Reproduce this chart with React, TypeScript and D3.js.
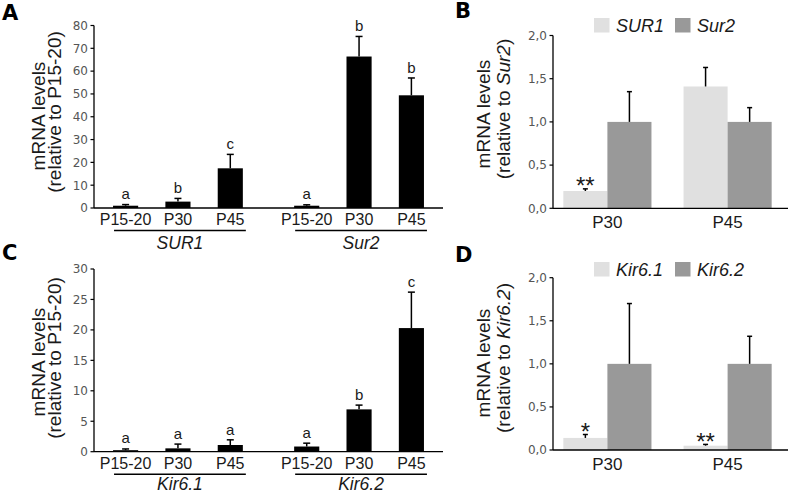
import React from "react";
import * as d3 from "d3";

// ---------- Data ----------
const stages = ["P15-20", "P30", "P45"];

const genesA = ["SUR1", "Sur2"];
const meanA = [
  [1.0, 2.8, 17.4],
  [1.0, 66.4, 49.4],
];
const semA = [
  [0.5, 1.4, 6.1],
  [0.4, 8.8, 7.6],
];
const lettersA = [
  ["a", "b", "c"],
  ["a", "b", "b"],
];
const ticksA = [0, 10, 20, 30, 40, 50, 60, 70, 80];

const genesC = ["Kir6.1", "Kir6.2"];
const meanC = [
  [0.25, 0.55, 1.1],
  [0.85, 6.95, 20.3],
];
const semC = [
  [0.2, 0.7, 0.85],
  [0.55, 0.7, 5.9],
];
const lettersC = [
  ["a", "a", "a"],
  ["a", "b", "c"],
];
const ticksC = [0, 5, 10, 15, 20, 25, 30];

const ages = ["P30", "P45"];
const seriesB = ["SUR1", "Sur2"];
const meanB = [
  [0.2, 1.41],
  [1.0, 1.0],
];
const semB = [
  [0.025, 0.22],
  [0.35, 0.165],
];
const starsB = [
  ["**", ""],
  ["", ""],
];

const seriesD = ["Kir6.1", "Kir6.2"];
const meanD = [
  [0.14, 0.05],
  [1.0, 1.0],
];
const semD = [
  [0.04, 0.015],
  [0.7, 0.32],
];
const starsD = [
  ["*", "**"],
  ["", ""],
];
const ticksBD = [0, 0.5, 1, 1.5, 2];

const seriesColors = ["#e0e0e0", "#999999"];

const SANS = "'Liberation Sans', Arial, sans-serif";
const TICKFONT = "'DejaVu Sans', sans-serif";
const TEXT = "#1a1a1a";

const fmtComma = (v: number) => d3.format(".1f")(v).replace(".", ",");

function YAxis({ x, y, ticks, fmt }: any) {
  const [d0, d1] = y.domain();
  return (
    <g>
      <line x1={x} x2={x} y1={y(d0)} y2={y(d1)} stroke="#000" strokeWidth={1.3} />
      {ticks.map((t: number) => (
        <g key={t}>
          <line x1={x - 3.5} x2={x} y1={y(t)} y2={y(t)} stroke="#000" strokeWidth={1.2} />
          <text
            x={x - 6}
            y={y(t)}
            dy="0.36em"
            textAnchor="end"
            fontFamily={TICKFONT}
            fontSize={12}
            fill="#555"
          >
            {fmt(t)}
          </text>
        </g>
      ))}
    </g>
  );
}

function YTitle({ x1, x2, cy1, cy2, second }: any) {
  return (
    <g fontFamily={SANS} fontSize={19} fill={TEXT}>
      <text transform={`translate(${x1},${cy1}) rotate(-90)`} textAnchor="middle">
        mRNA levels
      </text>
      <text transform={`translate(${x2},${cy2}) rotate(-90)`} textAnchor="middle">
        {second}
      </text>
    </g>
  );
}

function DevPanel({ y0, y1, max, ticks, genes, mean, sem, letters, titleCy, geneDy }: any) {
  const axX = 94;
  const y = d3.scaleLinear().domain([0, max]).range([y0, y1]);
  const gx = d3
    .scaleBand<string>()
    .domain(genes)
    .range([axX, 443])
    .paddingInner(0.133)
    .paddingOuter(0.03);
  const ix = d3
    .scaleBand<string>()
    .domain(stages)
    .range([0, gx.bandwidth()])
    .paddingInner(0.52)
    .paddingOuter(0.26);
  const bw = ix.bandwidth();
  return (
    <g>
      <YTitle
        x1={45}
        x2={61}
        cy1={titleCy + 4}
        cy2={titleCy}
        second="(relative to P15-20)"
      />
      {genes.map((g: string, gi: number) => {
        const gx0 = gx(g)!;
        const ux0 = gx0 + ix(stages[0])! + 1;
        const ux1 = gx0 + ix(stages[stages.length - 1])! + bw + 3;
        return (
          <g key={g}>
            {stages.map((s, si) => {
              const m = mean[gi][si];
              const top = m + sem[gi][si];
              const cx = gx0 + ix(s)! + bw / 2;
              return (
                <g key={s}>
                  <rect x={gx0 + ix(s)!} y={y(m)} width={bw} height={y0 - y(m)} fill="#000" />
                  <line x1={cx} x2={cx} y1={y(m)} y2={y(top)} stroke="#000" strokeWidth={1.5} />
                  <line x1={cx - 3.5} x2={cx + 3.5} y1={y(top)} y2={y(top)} stroke="#000" strokeWidth={1.5} />
                  <text
                    x={cx}
                    y={Math.min(y(top) - 5, y0 - 9)}
                    textAnchor="middle"
                    fontFamily={SANS}
                    fontSize={15}
                    fill={TEXT}
                  >
                    {letters[gi][si]}
                  </text>
                  <text
                    x={cx}
                    y={y0 + 17}
                    textAnchor="middle"
                    fontFamily={SANS}
                    fontSize={16}
                    fill={TEXT}
                  >
                    {s}
                  </text>
                </g>
              );
            })}
            <line x1={ux0} x2={ux1} y1={y0 + 22.5} y2={y0 + 22.5} stroke="#000" strokeWidth={1.4} />
            <text
              x={(ux0 + ux1) / 2}
              y={y0 + geneDy}
              textAnchor="middle"
              fontFamily={SANS}
              fontStyle="italic"
              fontSize={17.5}
              fill={TEXT}
            >
              {g}
            </text>
          </g>
        );
      })}
      <line x1={axX} x2={443} y1={y0} y2={y0} stroke="#000" strokeWidth={1.3} />
      <YAxis x={axX} y={y} ticks={ticks} fmt={(t: number) => String(t)} />
    </g>
  );
}

function RatioPanel({ y0, y1, series, mean, sem, stars, legendY, titleCy, relName }: any) {
  const axX = 553;
  const y = d3.scaleLinear().domain([0, 2]).range([y0, y1]);
  const gx = d3
    .scaleBand<string>()
    .domain(ages)
    .range([axX, 782])
    .paddingInner(0.267)
    .paddingOuter(0.086);
  const sx = d3.scaleBand<string>().domain(series).range([0, gx.bandwidth()]);
  const bw = sx.bandwidth();
  return (
    <g>
      <YTitle
        x1={490}
        x2={510}
        cy1={titleCy + 5}
        cy2={titleCy}
        second={
          <>
            (relative to <tspan fontStyle="italic">{relName}</tspan>)
          </>
        }
      />
      {series.map((s: string, si: number) => (
        <g key={s}>
          <rect
            x={594 + si * 81}
            y={legendY}
            width={15.5}
            height={14.5}
            fill={seriesColors[si]}
          />
          <text
            x={594 + si * 81 + 22}
            y={legendY + 14}
            fontFamily={SANS}
            fontStyle="italic"
            fontSize={18}
            fill={TEXT}
          >
            {s}
          </text>
        </g>
      ))}
      {ages.map((a, ai) => (
        <g key={a}>
          {series.map((s: string, si: number) => {
            const m = mean[si][ai];
            const top = m + sem[si][ai];
            const x0 = gx(a)! + sx(s)!;
            const cx = x0 + bw / 2;
            return (
              <g key={s}>
                <rect x={x0} y={y(m)} width={bw} height={y0 - y(m)} fill={seriesColors[si]} />
                <line x1={cx} x2={cx} y1={y(m)} y2={y(top)} stroke="#000" strokeWidth={1.5} />
                <line x1={cx - 2.5} x2={cx + 2.5} y1={y(top)} y2={y(top)} stroke="#000" strokeWidth={1.5} />
                {stars[si][ai] && (
                  <text
                    x={cx}
                    y={y(top) + 5.5}
                    textAnchor="middle"
                    fontFamily={SANS}
                    fontSize={24}
                    fill={TEXT}
                  >
                    {stars[si][ai]}
                  </text>
                )}
              </g>
            );
          })}
          <text
            x={gx(a)! + gx.bandwidth() / 2}
            y={y0 + 20}
            textAnchor="middle"
            fontFamily={SANS}
            fontSize={17}
            fill={TEXT}
          >
            {a}
          </text>
        </g>
      ))}
      <line x1={axX} x2={788} y1={y0} y2={y0} stroke="#000" strokeWidth={1.3} />
      <YAxis x={axX} y={y} ticks={ticksBD} fmt={fmtComma} />
    </g>
  );
}

function PanelLetter({ x, y, children }: any) {
  return (
    <text x={x} y={y} fontFamily="'DejaVu Sans', sans-serif" fontWeight="bold" fontSize={21} fill="#000">
      {children}
    </text>
  );
}

export default function App() {
  return (
    <svg
      width={789}
      height={494}
      style={{ position: "absolute", left: 0, top: 0, background: "#fff" }}
    >
      <rect width={789} height={494} fill="#fff" />
      <PanelLetter x={2} y={20}>A</PanelLetter>
      <PanelLetter x={455} y={18}>B</PanelLetter>
      <PanelLetter x={2} y={260}>C</PanelLetter>
      <PanelLetter x={455} y={262}>D</PanelLetter>
      <DevPanel
        y0={208}
        y1={25.5}
        max={80}
        ticks={ticksA}
        genes={genesA}
        mean={meanA}
        sem={semA}
        letters={lettersA}
        titleCy={112}
        geneDy={40.5}
      />
      <DevPanel
        y0={451.7}
        y1={269}
        max={30}
        ticks={ticksC}
        genes={genesC}
        mean={meanC}
        sem={semC}
        letters={lettersC}
        titleCy={358}
        geneDy={38}
      />
      <RatioPanel
        y0={208.3}
        y1={35.5}
        series={seriesB}
        mean={meanB}
        sem={semB}
        stars={starsB}
        legendY={18}
        titleCy={109}
        relName="Sur2"
      />
      <RatioPanel
        y0={450}
        y1={277.7}
        series={seriesD}
        mean={meanD}
        sem={semD}
        stars={starsD}
        legendY={262}
        titleCy={358}
        relName="Kir6.2"
      />
    </svg>
  );
}
